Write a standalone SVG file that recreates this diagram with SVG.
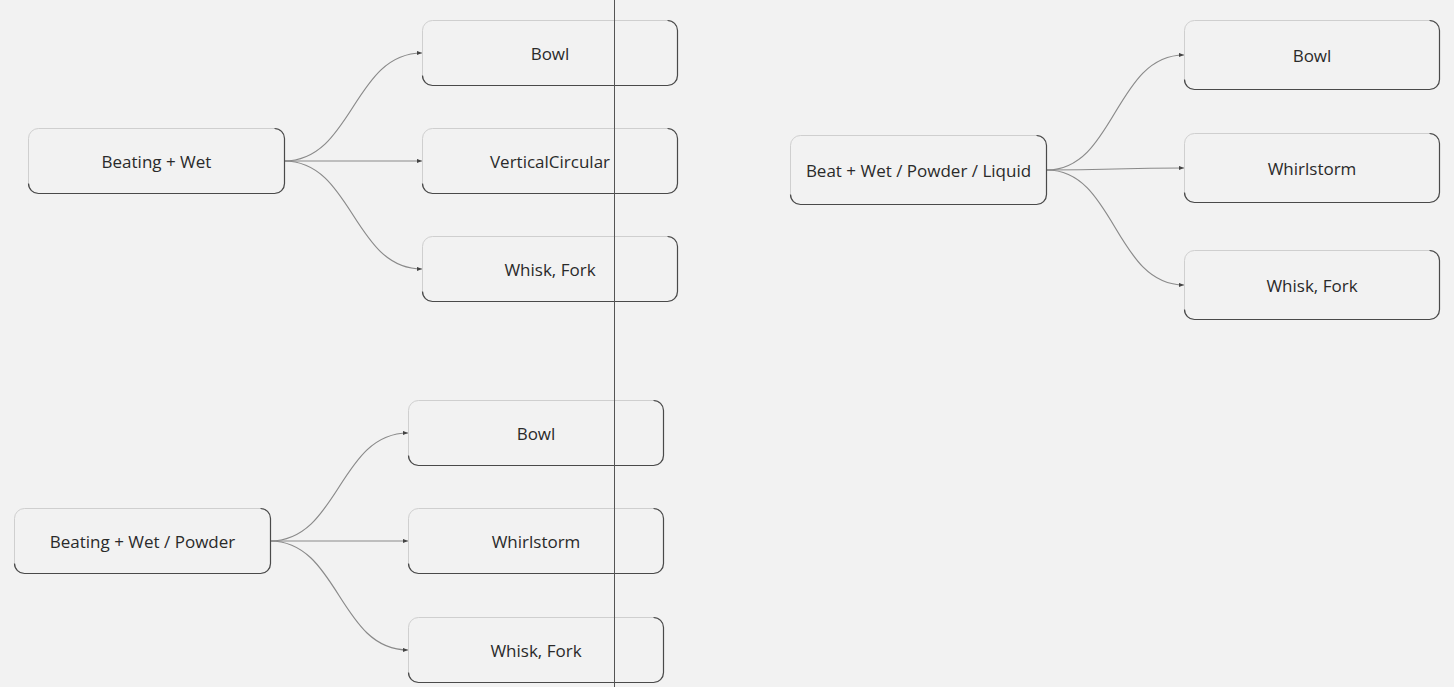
<svg xmlns="http://www.w3.org/2000/svg" width="1454" height="687" viewBox="0 0 1454 687">
<style>
.bg{fill:#f2f2f2}
.box{fill:#f2f2f2;stroke:#cfcfcf;stroke-width:1}
.edge{fill:none;stroke:#4a4a4a;stroke-width:1.2}
.lbl{font-family:"Open Sans","Noto Sans",sans-serif;font-size:17px;fill:#2a2a2a;text-anchor:middle}
.conn{fill:none;stroke:#8a8a8a;stroke-width:1.2}
</style>
<defs>
<marker id="arr" viewBox="0 0 6 6" refX="6" refY="3" markerWidth="5" markerHeight="5" orient="auto" markerUnits="userSpaceOnUse">
<path d="M0,0.5 L6,3 L0,5.5 Z" fill="#444"/>
</marker>
</defs>
<rect class="bg" x="0" y="0" width="1454" height="687"/>
<g id="connectors">
<path class="conn" marker-end="url(#arr)" d="M284,161 C353,161 353,53 422,53"/>
<path class="conn" marker-end="url(#arr)" d="M284,161 L422,161"/>
<path class="conn" marker-end="url(#arr)" d="M284,161 C353,161 353,269 422,269"/>
<path class="conn" marker-end="url(#arr)" d="M270,541 C339,541 339,433 408,433"/>
<path class="conn" marker-end="url(#arr)" d="M270,541 L408,541"/>
<path class="conn" marker-end="url(#arr)" d="M270,541 C339,541 339,650 408,650"/>
<path class="conn" marker-end="url(#arr)" d="M1047,170 C1115,170 1115,55 1184,55"/>
<path class="conn" marker-end="url(#arr)" d="M1047,170 C1115,170 1115,168 1184,168"/>
<path class="conn" marker-end="url(#arr)" d="M1047,170 C1115,170 1115,285 1184,285"/>
</g>
<g id="n-beating-wet">
<rect class="box" x="28.5" y="128.5" width="256" height="65" rx="10"/>
<path class="edge" d="M274.5,128.5 A10,10 0 0 1 284.5,138.5 V183.5 A10,10 0 0 1 274.5,193.5 H38.5 A10,10 0 0 1 28.5,183.5"/>
<text class="lbl" x="156.5" y="167.5">Beating + Wet</text>
</g>
<g id="n-bowl-1">
<rect class="box" x="422.5" y="20.5" width="255" height="65" rx="10"/>
<path class="edge" d="M667.5,20.5 A10,10 0 0 1 677.5,30.5 V75.5 A10,10 0 0 1 667.5,85.5 H432.5 A10,10 0 0 1 422.5,75.5"/>
<text class="lbl" x="550" y="59.5">Bowl</text>
</g>
<g id="n-vertical-1">
<rect class="box" x="422.5" y="128.5" width="255" height="65" rx="10"/>
<path class="edge" d="M667.5,128.5 A10,10 0 0 1 677.5,138.5 V183.5 A10,10 0 0 1 667.5,193.5 H432.5 A10,10 0 0 1 422.5,183.5"/>
<text class="lbl" x="550" y="167.5">VerticalCircular</text>
</g>
<g id="n-whisk-1">
<rect class="box" x="422.5" y="236.5" width="255" height="65" rx="10"/>
<path class="edge" d="M667.5,236.5 A10,10 0 0 1 677.5,246.5 V291.5 A10,10 0 0 1 667.5,301.5 H432.5 A10,10 0 0 1 422.5,291.5"/>
<text class="lbl" x="550" y="275.5">Whisk, Fork</text>
</g>
<g id="n-beating-wet-powder">
<rect class="box" x="14.5" y="508.5" width="256" height="65" rx="10"/>
<path class="edge" d="M260.5,508.5 A10,10 0 0 1 270.5,518.5 V563.5 A10,10 0 0 1 260.5,573.5 H24.5 A10,10 0 0 1 14.5,563.5"/>
<text class="lbl" x="142.5" y="547.5">Beating + Wet / Powder</text>
</g>
<g id="n-bowl-2">
<rect class="box" x="408.5" y="400.5" width="255" height="65" rx="10"/>
<path class="edge" d="M653.5,400.5 A10,10 0 0 1 663.5,410.5 V455.5 A10,10 0 0 1 653.5,465.5 H418.5 A10,10 0 0 1 408.5,455.5"/>
<text class="lbl" x="536" y="439.5">Bowl</text>
</g>
<g id="n-whirl-2">
<rect class="box" x="408.5" y="508.5" width="255" height="65" rx="10"/>
<path class="edge" d="M653.5,508.5 A10,10 0 0 1 663.5,518.5 V563.5 A10,10 0 0 1 653.5,573.5 H418.5 A10,10 0 0 1 408.5,563.5"/>
<text class="lbl" x="536" y="547.5">Whirlstorm</text>
</g>
<g id="n-whisk-2">
<rect class="box" x="408.5" y="617.5" width="255" height="65" rx="10"/>
<path class="edge" d="M653.5,617.5 A10,10 0 0 1 663.5,627.5 V672.5 A10,10 0 0 1 653.5,682.5 H418.5 A10,10 0 0 1 408.5,672.5"/>
<text class="lbl" x="536" y="656.5">Whisk, Fork</text>
</g>
<g id="n-beat-wet-powder-liquid">
<rect class="box" x="790.5" y="135.5" width="256" height="69" rx="10"/>
<path class="edge" d="M1036.5,135.5 A10,10 0 0 1 1046.5,145.5 V194.5 A10,10 0 0 1 1036.5,204.5 H800.5 A10,10 0 0 1 790.5,194.5"/>
<text class="lbl" x="918.5" y="176.5">Beat + Wet / Powder / Liquid</text>
</g>
<g id="n-bowl-3">
<rect class="box" x="1184.5" y="20.5" width="255" height="69" rx="10"/>
<path class="edge" d="M1429.5,20.5 A10,10 0 0 1 1439.5,30.5 V79.5 A10,10 0 0 1 1429.5,89.5 H1194.5 A10,10 0 0 1 1184.5,79.5"/>
<text class="lbl" x="1312" y="61.5">Bowl</text>
</g>
<g id="n-whirl-3">
<rect class="box" x="1184.5" y="133.5" width="255" height="69" rx="10"/>
<path class="edge" d="M1429.5,133.5 A10,10 0 0 1 1439.5,143.5 V192.5 A10,10 0 0 1 1429.5,202.5 H1194.5 A10,10 0 0 1 1184.5,192.5"/>
<text class="lbl" x="1312" y="174.5">Whirlstorm</text>
</g>
<g id="n-whisk-3">
<rect class="box" x="1184.5" y="250.5" width="255" height="69" rx="10"/>
<path class="edge" d="M1429.5,250.5 A10,10 0 0 1 1439.5,260.5 V309.5 A10,10 0 0 1 1429.5,319.5 H1194.5 A10,10 0 0 1 1184.5,309.5"/>
<text class="lbl" x="1312" y="291.5">Whisk, Fork</text>
</g>
<line x1="614.5" y1="0" x2="614.5" y2="687" stroke="#555" stroke-width="1"/>
</svg>
